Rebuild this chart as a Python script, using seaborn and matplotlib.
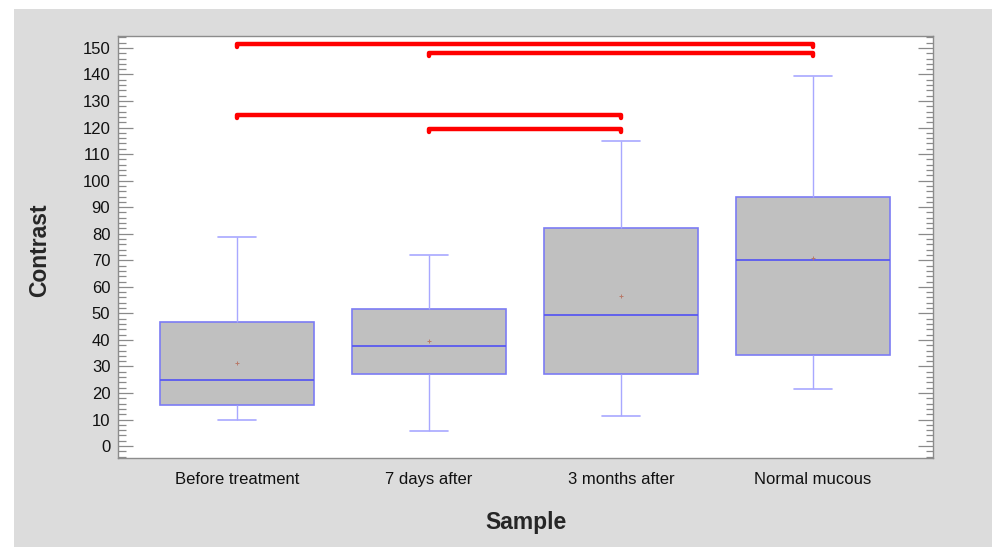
import matplotlib
matplotlib.use("Agg")
import matplotlib.pyplot as plt
from matplotlib.patches import Rectangle
from matplotlib.ticker import MultipleLocator
import numpy as np
import pandas as pd
import seaborn as sns

# Group names, in plotting order
samples = ["Before treatment", "7 days after", "3 months after", "Normal mucous"]

# Five-number summaries per group: lower whisker, Q1, median, Q3, upper whisker
whisker_low = [9.8, 5.5, 11.4, 21.4]
q1 = [15.5, 27.3, 27.0, 34.3]
median = [24.9, 37.6, 49.4, 70.1]
q3 = [46.7, 51.6, 82.3, 94.0]
whisker_high = [78.8, 72.1, 114.8, 139.5]
means = [31.2, 39.6, 56.7, 70.7]

# Significance brackets: (from group, to group, height)
bracket_from = [0, 1, 0, 1]
bracket_to = [3, 3, 2, 2]
bracket_y = [151.5, 148.0, 124.8, 119.5]

rows = []
for name, lo, a, m, b, hi in zip(samples, whisker_low, q1, median, q3, whisker_high):
    for v in (lo, a, m, b, hi):
        rows.append({"Sample": name, "Contrast": v})
df = pd.DataFrame(rows)

sns.set_theme(style="white")
plt.rcParams["font.family"] = ["Liberation Sans", "DejaVu Sans"]

fig = plt.figure(figsize=(9.92, 5.47), dpi=100, facecolor="white")
fig.add_artist(Rectangle((14 / 992, 0), 1, (547 - 9) / 547, transform=fig.transFigure,
                         facecolor="#dcdcdc", edgecolor="none", zorder=-5))
ax = fig.add_axes([118 / 992, 1 - 458 / 547, (933 - 118) / 992, (458 - 36) / 547])
ax.set_facecolor("white")

sns.boxplot(data=df, x="Sample", y="Contrast", order=samples, ax=ax,
            whis=(0, 100), width=0.8, showfliers=False,
            boxprops=dict(facecolor="#c0c0c0", edgecolor="#7c7cf4", linewidth=1.2),
            medianprops=dict(color="#5a5af0", linewidth=1.3),
            whiskerprops=dict(color="#a8a8ff", linewidth=1.0),
            capprops=dict(color="#a8a8ff", linewidth=1.2),
            capwidths=0.2)

# group means
ax.scatter(range(len(samples)), means, marker="+", s=5, color="#b87a6a", linewidths=0.7, zorder=5)

# significance brackets with short downward hooks at both ends
for i0, i1, yb in zip(bracket_from, bracket_to, bracket_y):
    ax.plot([i0, i0, i1, i1], [yb - 1.2, yb, yb, yb - 1.2], color="#ff0000", lw=3.2,
            solid_capstyle="round", solid_joinstyle="round", zorder=6)

ax.set_xlim(-0.62, 3.625)
ax.set_ylim(-4.5, 154.5)
ax.yaxis.set_major_locator(MultipleLocator(10))
ax.yaxis.set_minor_locator(MultipleLocator(2))
ax.tick_params(axis="y", which="major", direction="in", left=True, right=True,
               length=11, width=0.9, color="#8a8a8a", labelsize=12, pad=5.5,
               labelcolor="#111111")
ax.tick_params(axis="y", which="minor", direction="in", left=True, right=True,
               length=5.4, width=0.9, color="#8a8a8a")
ax.tick_params(axis="x", length=0, labelsize=12, pad=10, labelcolor="#111111")

for side in ("left", "right", "top", "bottom"):
    ax.spines[side].set_color("#8c8c8c")
    ax.spines[side].set_linewidth(1.0)

ax.set_xlabel("Sample", fontsize=16.5, fontweight="bold")
ax.set_ylabel("Contrast", fontsize=16.5, fontweight="bold")
ax.xaxis.label.set_va("center")
ax.xaxis.set_label_coords((526 - 118) / 815, (458 - 523) / 422)
ax.yaxis.label.set_va("center")
ax.yaxis.set_label_coords((40 - 118) / 815, (458 - 250) / 422)

fig.savefig("out.png", dpi=100, facecolor=fig.get_facecolor())
